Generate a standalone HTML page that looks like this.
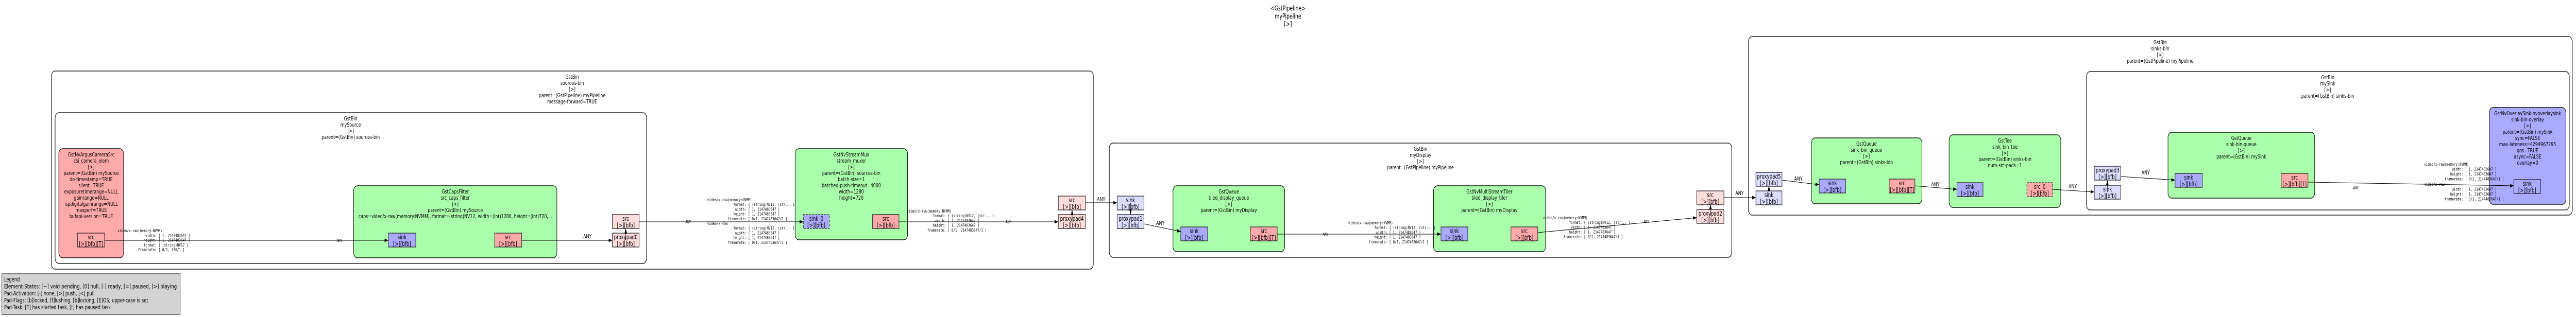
<!DOCTYPE html>
<html><head><meta charset="utf-8">
<style>
html,body{margin:0;padding:0;background:#fff;width:100%;height:100%;overflow:hidden}
svg{display:block;width:100vw;height:100vh}
.t{font-family:"DejaVu Sans","Liberation Sans",sans-serif;font-size:11px;text-anchor:middle;fill:#000}
.p{font-family:"DejaVu Sans","Liberation Sans",sans-serif;font-size:12px;text-anchor:middle;fill:#000}
.h{font-family:"DejaVu Sans","Liberation Sans",sans-serif;font-size:13px;text-anchor:middle;fill:#000}
.a{font-family:"DejaVu Sans","Liberation Sans",sans-serif;font-size:11px;text-anchor:middle;fill:#000}
.c{font-family:"DejaVu Sans Mono","Liberation Mono",monospace;font-size:8.3px;fill:#000;white-space:pre}
.cm{font-family:"DejaVu Sans Mono","Liberation Mono",monospace;font-size:8.3px;fill:#000;text-anchor:middle}
.l{font-family:"DejaVu Sans","Liberation Sans",sans-serif;font-size:11.5px;fill:#000}
.bin{fill:#fff;stroke:#222;stroke-width:1.6}
.el{stroke:#111;stroke-width:1.4}
.pad{stroke:#222;stroke-width:1.3}
.e{stroke:#000;stroke-width:1.1;fill:none}
</style></head><body>
<svg viewBox="0 0 6920 616" preserveAspectRatio="none" xmlns="http://www.w3.org/2000/svg" xml:space="preserve">
<defs>
<marker id="ar" markerUnits="userSpaceOnUse" markerWidth="11" markerHeight="8" refX="10" refY="3.5" orient="auto"><path d="M0,0 L10,3.5 L0,7 z" fill="#000"/></marker>
</defs>

<text class="h" x="3460" y="20.5">&lt;GstPipeline&gt;</text>
<text class="h" x="3460" y="36">myPipeline</text>
<text class="h" x="3460" y="51">[&gt;]</text>

<rect class="bin" x="138" y="138" width="2799" height="385" rx="10"/>
<text class="t" x="1537" y="153">GstBin</text><text class="t" x="1537" y="165">sources-bin</text><text class="t" x="1537" y="177">[&gt;]</text><text class="t" x="1537" y="189">parent=(GstPipeline) myPipeline</text><text class="t" x="1537" y="201">message-forward=TRUE</text>

<rect class="bin" x="148" y="219" width="1589" height="293" rx="10"/>
<text class="t" x="942" y="234">GstBin</text><text class="t" x="942" y="246">mySource</text><text class="t" x="942" y="258">[&gt;]</text><text class="t" x="942" y="270">parent=(GstBin) sources-bin</text>

<rect class="bin" x="2980" y="278" width="1672" height="222" rx="10"/>
<text class="t" x="3816" y="293">GstBin</text><text class="t" x="3816" y="305">myDisplay</text><text class="t" x="3816" y="317">[&gt;]</text><text class="t" x="3816" y="329">parent=(GstPipeline) myPipeline</text>

<rect class="bin" x="4697" y="71" width="2213" height="347" rx="10"/>
<text class="t" x="5803" y="86">GstBin</text><text class="t" x="5803" y="98">sinks-bin</text><text class="t" x="5803" y="110">[&gt;]</text><text class="t" x="5803" y="122">parent=(GstPipeline) myPipeline</text>

<rect class="bin" x="5605" y="139" width="1297" height="269" rx="10"/>
<text class="t" x="6253" y="154">GstBin</text><text class="t" x="6253" y="166">mySink</text><text class="t" x="6253" y="178">[&gt;]</text><text class="t" x="6253" y="190">parent=(GstBin) sinks-bin</text>

<rect class="el" x="158" y="289" width="174" height="212" rx="10" fill="#ffaaaa"/>
<text class="t" x="245" y="304">GstNvArgusCameraSrc</text><text class="t" x="245" y="316">csi_camera_elem</text><text class="t" x="245" y="328">[&gt;]</text><text class="t" x="245" y="340">parent=(GstBin) mySource</text><text class="t" x="245" y="352">do-timestamp=TRUE</text><text class="t" x="245" y="364">silent=TRUE</text><text class="t" x="245" y="376">exposuretimerange=NULL</text><text class="t" x="245" y="388">gainrange=NULL</text><text class="t" x="245" y="400">ispdigitalgainrange=NULL</text><text class="t" x="245" y="412">maxperf=TRUE</text><text class="t" x="245" y="424">bufapi-version=TRUE</text>

<rect class="el" x="950" y="361" width="546" height="140" rx="10" fill="#aaffaa"/>
<text class="t" x="1223" y="376">GstCapsFilter</text><text class="t" x="1223" y="388">src_caps_filter</text><text class="t" x="1223" y="400">[&gt;]</text><text class="t" x="1223" y="412">parent=(GstBin) mySource</text><text class="t" x="1223" y="424">caps=video/x-raw(memory:NVMM), format=(string)NV12, width=(int)1280, height=(int)720,...</text>

<rect class="el" x="2136" y="289" width="302" height="177" rx="10" fill="#aaffaa"/>
<text class="t" x="2287" y="304">GstNvStreamMux</text><text class="t" x="2287" y="316">stream_muxer</text><text class="t" x="2287" y="328">[&gt;]</text><text class="t" x="2287" y="340">parent=(GstBin) sources-bin</text><text class="t" x="2287" y="352">batch-size=1</text><text class="t" x="2287" y="364">batched-push-timeout=4000</text><text class="t" x="2287" y="376">width=1280</text><text class="t" x="2287" y="388">height=720</text>

<rect class="el" x="3151" y="361" width="300" height="128" rx="10" fill="#aaffaa"/>
<text class="t" x="3301" y="376">GstQueue</text><text class="t" x="3301" y="388">tiled_display_queue</text><text class="t" x="3301" y="400">[&gt;]</text><text class="t" x="3301" y="412">parent=(GstBin) myDisplay</text>

<rect class="el" x="3851" y="361" width="301" height="128" rx="10" fill="#aaffaa"/>
<text class="t" x="4001" y="376">GstNvMultiStreamTiler</text><text class="t" x="4001" y="388">tiled_display_tiler</text><text class="t" x="4001" y="400">[&gt;]</text><text class="t" x="4001" y="412">parent=(GstBin) myDisplay</text>

<rect class="el" x="4866" y="268" width="297" height="128" rx="10" fill="#aaffaa"/>
<text class="t" x="5014" y="283">GstQueue</text><text class="t" x="5014" y="295">sink_bin_queue</text><text class="t" x="5014" y="307">[&gt;]</text><text class="t" x="5014" y="319">parent=(GstBin) sinks-bin</text>

<rect class="el" x="5236" y="262" width="300" height="141" rx="10" fill="#aaffaa"/>
<text class="t" x="5386" y="277">GstTee</text><text class="t" x="5386" y="289">sink_bin_tee</text><text class="t" x="5386" y="301">[&gt;]</text><text class="t" x="5386" y="313">parent=(GstBin) sinks-bin</text><text class="t" x="5386" y="325">num-src-pads=1</text>

<rect class="el" x="5824" y="257" width="394" height="128" rx="10" fill="#aaffaa"/>
<text class="t" x="6021" y="272">GstQueue</text><text class="t" x="6021" y="284">sink-bin-queue</text><text class="t" x="6021" y="296">[&gt;]</text><text class="t" x="6021" y="308">parent=(GstBin) mySink</text>

<rect class="el" x="6687" y="209" width="206" height="188" rx="10" fill="#aaaaff"/>
<text class="t" x="6790" y="224">GstNvOverlaySink-nvoverlaysink</text><text class="t" x="6790" y="236">sink-bin-overlay</text><text class="t" x="6790" y="248">[&gt;]</text><text class="t" x="6790" y="260">parent=(GstBin) mySink</text><text class="t" x="6790" y="272">sync=FALSE</text><text class="t" x="6790" y="284">max-lateness=4294967295</text><text class="t" x="6790" y="296">qos=TRUE</text><text class="t" x="6790" y="308">async=FALSE</text><text class="t" x="6790" y="320">overlay=0</text>

<g>
<rect class="pad" x="208" y="453" width="73" height="27" fill="#ffaaaa"/><text class="p" x="244.5" y="465">src</text><text class="p" x="244.5" y="478">[&gt;][bfb][T]</text>
<rect class="pad" x="1043" y="453" width="74" height="27" fill="#aaaaff"/><text class="p" x="1080" y="465">sink</text><text class="p" x="1080" y="478">[&gt;][bfb]</text>
<rect class="pad" x="1329" y="453" width="72" height="27" fill="#ffaaaa"/><text class="p" x="1365" y="465">src</text><text class="p" x="1365" y="478">[&gt;][bfb]</text>
<rect class="pad" x="1645" y="453" width="72" height="27" fill="#ffdddd"/><text class="p" x="1681" y="465">proxypad0</text><text class="p" x="1681" y="478">[&gt;][bfb]</text>
<rect class="pad" x="1645" y="417" width="72" height="27" fill="#ffdddd"/><text class="p" x="1681" y="429">src</text><text class="p" x="1681" y="442">[&gt;][bfb]</text>
<rect class="pad" x="2158" y="417" width="70" height="27" fill="#aaaaff" stroke-dasharray="5,3"/><text class="p" x="2193" y="429">sink_0</text><text class="p" x="2193" y="442">[&gt;][bfb]</text>
<rect class="pad" x="2344" y="417" width="71" height="27" fill="#ffaaaa"/><text class="p" x="2379.5" y="429">src</text><text class="p" x="2379.5" y="442">[&gt;][bfb]</text>
<rect class="pad" x="2843" y="417" width="73" height="27" fill="#ffdddd"/><text class="p" x="2879.5" y="429">proxypad4</text><text class="p" x="2879.5" y="442">[&gt;][bfb]</text>
<rect class="pad" x="2843" y="381" width="73" height="27" fill="#ffdddd"/><text class="p" x="2879.5" y="393">src</text><text class="p" x="2879.5" y="406">[&gt;][bfb]</text>
<rect class="pad" x="3001" y="381" width="72" height="27" fill="#ddddff"/><text class="p" x="3037" y="393">sink</text><text class="p" x="3037" y="406">[&gt;][bfb]</text>
<rect class="pad" x="3001" y="417" width="72" height="27" fill="#ddddff"/><text class="p" x="3037" y="429">proxypad1</text><text class="p" x="3037" y="442">[&gt;][bfb]</text>
<rect class="pad" x="3172" y="441" width="72" height="27" fill="#aaaaff"/><text class="p" x="3208" y="453">sink</text><text class="p" x="3208" y="466">[&gt;][bfb]</text>
<rect class="pad" x="3359" y="441" width="72" height="27" fill="#ffaaaa"/><text class="p" x="3395" y="453">src</text><text class="p" x="3395" y="466">[&gt;][bfb][T]</text>
<rect class="pad" x="3871" y="441" width="72" height="27" fill="#aaaaff"/><text class="p" x="3907" y="453">sink</text><text class="p" x="3907" y="466">[&gt;][bfb]</text>
<rect class="pad" x="4059" y="441" width="72" height="27" fill="#ffaaaa"/><text class="p" x="4095" y="453">src</text><text class="p" x="4095" y="466">[&gt;][bfb]</text>
<rect class="pad" x="4558" y="371" width="73" height="27" fill="#ffdddd"/><text class="p" x="4594.5" y="383">src</text><text class="p" x="4594.5" y="396">[&gt;][bfb]</text>
<rect class="pad" x="4558" y="407" width="73" height="27" fill="#ffdddd"/><text class="p" x="4594.5" y="419">proxypad2</text><text class="p" x="4594.5" y="432">[&gt;][bfb]</text>
<rect class="pad" x="4717" y="371" width="70" height="27" fill="#ddddff"/><text class="p" x="4752" y="383">sink</text><text class="p" x="4752" y="396">[&gt;][bfb]</text>
<rect class="pad" x="4717" y="335" width="70" height="27" fill="#ddddff"/><text class="p" x="4752" y="347">proxypad5</text><text class="p" x="4752" y="360">[&gt;][bfb]</text>
<rect class="pad" x="4887" y="348" width="71" height="27" fill="#aaaaff"/><text class="p" x="4922.5" y="360">sink</text><text class="p" x="4922.5" y="373">[&gt;][bfb]</text>
<rect class="pad" x="5075" y="348" width="69" height="27" fill="#ffaaaa"/><text class="p" x="5109.5" y="360">src</text><text class="p" x="5109.5" y="373">[&gt;][bfb][T]</text>
<rect class="pad" x="5257" y="355" width="70" height="27" fill="#aaaaff"/><text class="p" x="5292" y="367">sink</text><text class="p" x="5292" y="380">[&gt;][bfb]</text>
<rect class="pad" x="5445" y="355" width="69" height="27" fill="#ffaaaa" stroke-dasharray="5,3"/><text class="p" x="5479.5" y="367">src_0</text><text class="p" x="5479.5" y="380">[&gt;][bfb]</text>
<rect class="pad" x="5626" y="360" width="71" height="27" fill="#ddddff"/><text class="p" x="5661.5" y="372">sink</text><text class="p" x="5661.5" y="385">[&gt;][bfb]</text>
<rect class="pad" x="5626" y="323" width="71" height="27" fill="#ddddff"/><text class="p" x="5661.5" y="335">proxypad3</text><text class="p" x="5661.5" y="348">[&gt;][bfb]</text>
<rect class="pad" x="5843" y="337" width="73" height="27" fill="#aaaaff"/><text class="p" x="5879.5" y="349">sink</text><text class="p" x="5879.5" y="362">[&gt;][bfb]</text>
<rect class="pad" x="6128" y="337" width="72" height="27" fill="#ffaaaa"/><text class="p" x="6164" y="349">src</text><text class="p" x="6164" y="362">[&gt;][bfb][T]</text>
<rect class="pad" x="6753" y="349" width="72" height="27" fill="#aaaaff"/><text class="p" x="6789" y="361">sink</text><text class="p" x="6789" y="374">[&gt;][bfb]</text>
</g>

<g marker-end="url(#ar)">
<line class="e" x1="281" y1="467" x2="1043" y2="467"/>
<line class="e" x1="1401" y1="467" x2="1645" y2="467"/>
<line class="e" x1="1681" y1="466" x2="1681" y2="444"/>
<line class="e" x1="1717" y1="431" x2="2158" y2="431"/>
<line class="e" x1="2415" y1="431" x2="2843" y2="431"/>
<line class="e" x1="2880" y1="430" x2="2880" y2="408"/>
<line class="e" x1="2916" y1="394" x2="3001" y2="394"/>
<line class="e" x1="3037" y1="394" x2="3037" y2="417"/>
<line class="e" x1="3073" y1="435" x2="3172" y2="450"/>
<line class="e" x1="3431" y1="455" x2="3871" y2="455"/>
<line class="e" x1="4131" y1="452" x2="4558" y2="423"/>
<line class="e" x1="4595" y1="420" x2="4595" y2="397"/>
<line class="e" x1="4631" y1="384" x2="4717" y2="384"/>
<line class="e" x1="4752" y1="384" x2="4752" y2="361"/>
<line class="e" x1="4787" y1="350" x2="4887" y2="359"/>
<line class="e" x1="5144" y1="361" x2="5257" y2="368"/>
<line class="e" x1="5514" y1="368" x2="5626" y2="373"/>
<line class="e" x1="5661" y1="373" x2="5661" y2="350"/>
<line class="e" x1="5697" y1="343" x2="5843" y2="350"/>
<line class="e" x1="6200" y1="354" x2="6753" y2="361"/>
</g>

<text class="cm" x="912" y="470">ANY</text>
<text class="a" x="1578" y="463">ANY</text>
<text class="cm" x="1849" y="434">ANY</text>
<text class="cm" x="2709" y="434">ANY</text>
<text class="a" x="2958" y="391">ANY</text>
<text class="a" x="3117" y="437">ANY</text>
<text class="cm" x="3561" y="458">ANY</text>
<text class="cm" x="4423" y="433">ANY</text>
<text class="a" x="4673" y="379">ANY</text>
<text class="a" x="4831" y="351">ANY</text>
<text class="a" x="5199" y="362">ANY</text>
<text class="a" x="5568" y="366">ANY</text>
<text class="a" x="5764" y="339">ANY</text>
<text class="cm" x="6329" y="368">ANY</text>

<text class="c" x="316" y="451">video/x-raw(memory:NVMM)</text>
<text class="c" x="316" y="460.3">               width: [ 1, 2147483647 ]</text>
<text class="c" x="316" y="469.6">              height: [ 1, 2147483647 ]</text>
<text class="c" x="316" y="478.9">              format: { (string)NV12 }</text>
<text class="c" x="316" y="488.2">           framerate: [ 0/1, 120/1 ]</text>

<text class="c" x="1900" y="391">video/x-raw(memory:NVMM)</text>
<text class="c" x="1900" y="400.2">              format: { (string)NV12, (str... }</text>
<text class="c" x="1900" y="409.4">               width: [ 1, 2147483647 ]</text>
<text class="c" x="1900" y="418.6">              height: [ 1, 2147483647 ]</text>
<text class="c" x="1900" y="427.8">           framerate: [ 0/1, 2147483647/1 ]</text>
<text class="c" x="1900" y="437">video/x-raw</text>
<text class="c" x="1900" y="446.2">              format: { (string)NV12, (str... }</text>
<text class="c" x="1900" y="455.4">               width: [ 1, 2147483647 ]</text>
<text class="c" x="1900" y="464.6">              height: [ 1, 2147483647 ]</text>
<text class="c" x="1900" y="473.8">           framerate: [ 0/1, 2147483647/1 ]</text>

<text class="c" x="2436" y="413">video/x-raw(memory:NVMM)</text>
<text class="c" x="2436" y="422.2">              format: { (string)NV12, (str... }</text>
<text class="c" x="2436" y="431.4">               width: [ 1, 2147483647 ]</text>
<text class="c" x="2436" y="440.6">              height: [ 1, 2147483647 ]</text>
<text class="c" x="2436" y="449.8">           framerate: [ 0/1, 2147483647/1 ]</text>

<text class="c" x="3622" y="436">video/x-raw(memory:NVMM)</text>
<text class="c" x="3622" y="445.2">              format: { (string)NV12, (str... }</text>
<text class="c" x="3622" y="454.4">               width: [ 1, 2147483647 ]</text>
<text class="c" x="3622" y="463.6">              height: [ 1, 2147483647 ]</text>
<text class="c" x="3622" y="472.8">           framerate: [ 0/1, 2147483647/1 ]</text>

<text class="c" x="4145" y="426">video/x-raw(memory:NVMM)</text>
<text class="c" x="4145" y="435.2">              format: { (string)NV12, (str... }</text>
<text class="c" x="4145" y="444.4">               width: [ 1, 2147483647 ]</text>
<text class="c" x="4145" y="453.6">              height: [ 1, 2147483647 ]</text>
<text class="c" x="4145" y="462.8">           framerate: [ 0/1, 2147483647/1 ]</text>

<text class="c" x="6512" y="322">video/x-raw(memory:NVMM)</text>
<text class="c" x="6512" y="331.5">               width: [ 1, 2147483647 ]</text>
<text class="c" x="6512" y="341">              height: [ 1, 2147483647 ]</text>
<text class="c" x="6512" y="350.5">           framerate: [ 0/1, 2147483647/1 ]</text>
<text class="c" x="6512" y="361">video/x-raw</text>
<text class="c" x="6512" y="370.5">               width: [ 1, 2147483647 ]</text>
<text class="c" x="6512" y="380">              height: [ 1, 2147483647 ]</text>
<text class="c" x="6512" y="389.5">           framerate: [ 0/1, 2147483647/1 ]</text>

<rect x="5" y="532" width="479" height="79" fill="#d3d3d3" stroke="#222" stroke-width="1.2"/>
<text class="l" x="11" y="547">Legend</text>
<text class="l" x="11" y="560.5" textLength="464" lengthAdjust="spacingAndGlyphs">Element-States: [~] void-pending, [0] null, [-] ready, [=] paused, [&gt;] playing</text>
<text class="l" x="11" y="574">Pad-Activation: [-] none, [&gt;] push, [&lt;] pull</text>
<text class="l" x="11" y="587.5">Pad-Flags: [b]locked, [f]lushing, [b]locking, [E]OS; upper-case is set</text>
<text class="l" x="11" y="601">Pad-Task: [T] has started task, [t] has paused task</text>
</svg>
</body></html>
